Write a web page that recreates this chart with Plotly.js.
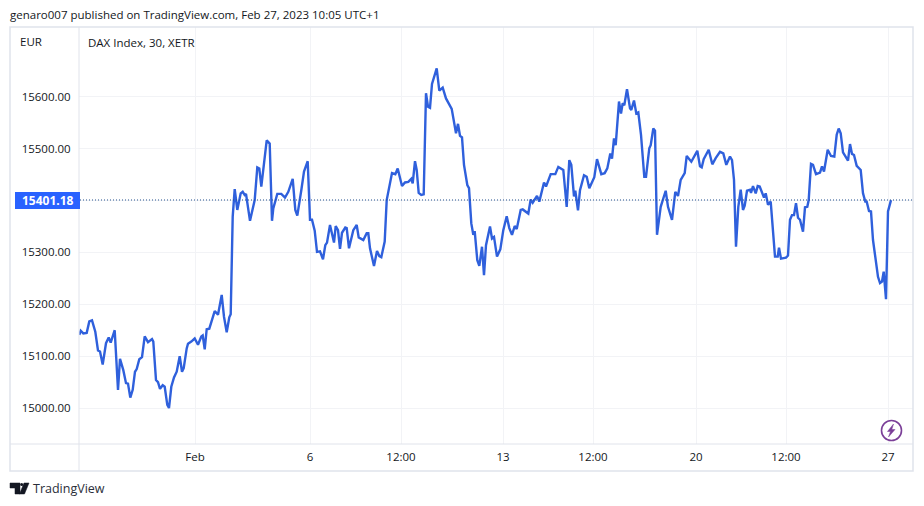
<!DOCTYPE html>
<html><head><meta charset="utf-8">
<script src="https://cdn.plot.ly/plotly-3.0.1.min.js"></script>
<style>html,body{margin:0;padding:0;background:#fff}#c{width:924px;height:506px}</style>
</head><body><div id="c"></div>
<script>
// horizontal position in session-time units (193 units = one trading week)
const sessionTime = [0.3,1.7,4.3,7.7,10.3,13,16.3,19,21,23.7,27,29.7,31.7,35.7,39,41,44.3,47,49,51.3,53.7,56,57.7,60.3,63,65.7,69,73,74.3,77,79,81,83.7,85.7,88.3,90,92.3,95,97.7,100.7,103,104.7,107.7,109,112.3,115.7,119,122.3,123.7,125.7,127.7,130.3,135.7,139,142.7,145,147.7,150.3,151.7,
153.7,155.7,158.3,161.7,163.7,165.7,167,171,175.7,178.3,180.3,182.3,187.7,190.7,193,194.3,198.3,202.3,206,209.3,213.7,216.3,218.3,222.3,225,228.7,231,233,235.7,238,241,244,246.3,248,251,255,256.7,259,261,263,266.3,267.7,270,274.3,277.7,279.7,284.3,287.7,289.3,291,295,298,300.3,302.3,305.7,307.7,313,316.3,318.7,323,326,329.3,332.3,333.7,336,337.7,339.7,342.3,344.7,347,349,351,353,357.7,360.3,363.7,367,372.7,
377,379,381,383,385,388.3,390,392.3,394.3,395.7,398.3,400.3,403,405,407,411,413,415,418,421.3,424.3,427.7,430.3,433,435.7,437.7,441.7,443.7,449.3,451.7,453.7,458,460.3,465,467,471.7,476.3,479.3,484.3,487.7,490.3,492.3,495,496.3,499,501,505,507.7,510.3,515.3,518,522.3,525.7,528.3,531.3,533,535,536.7,540,542,543.7,545.3,548,551,552.3,555,557.3,559.3,562,565.3,567,570.3,571.7,574.3,576,578,579.7,581.7,586.7,589,593,596.3,
599,601.7,605.7,607.7,612.3,618.3,621,622.7,624.7,629.7,633.3,636.7,641,644.3,647.3,651,653,655,657,659.3,661.7,664,665.7,668,671,672,674,676.7,678.7,680.7,685,686.7,689,691.7,696,698.7,700,702,707,709,711,713,715,717,719,721,724,726,728.3,729.7,732,734,737,741,743,745,748.7,752,755.3,757.7,759.7,761.7,764,769,771,773,775,777.7,781.7,784,786.3,787.7,790,792,794,796,799,801,803,804.7,807,809,812];
const closes = [15141,15149,15144,15145,15167,15169,15147,15111,15109,15084,15125,15136,15126,15150,15035,15095,15073,15048,15047,15020,15035,15070,15075,15094,15098,15138,15127,15133,15128,15054,15050,15037,15044,15041,15006,15000,15041,15059,15070,15100,15070,15077,15115,15124,15128,15134,15122,15138,15140,15113,15152,15153,15187,15180,15218,15176,15146,15175,15181,
15369,15422,15382,15414,15417,15411,15413,15361,15401,15464,15462,15427,15516,15510,15361,15385,15413,15413,15406,15417,15442,15382,15371,15420,15456,15476,15363,15363,15342,15301,15302,15287,15314,15319,15353,15319,15351,15343,15307,15338,15348,15347,15308,15343,15353,15329,15324,15337,15337,15308,15274,15303,15293,15291,15321,15401,15453,15451,15462,15428,15435,15436,15442,15433,15476,15459,15415,15411,15412,15607,15581,15579,15625,15655,15612,15618,15597,15577,
15530,15548,15525,15522,15469,15430,15424,15356,15334,15341,15285,15274,15311,15256,15314,15350,15327,15330,15292,15306,15343,15370,15347,15334,15351,15345,15382,15383,15375,15402,15396,15409,15398,15435,15427,15451,15451,15465,15459,15388,15478,15469,15408,15419,15381,15420,15449,15446,15424,15445,15480,15451,15453,15462,15491,15481,15520,15507,15591,15568,15588,15584,15615,15578,15575,15593,15568,15570,15527,15446,15446,15501,15507,15539,15535,15334,15356,15388,15419,15388,15363,15417,
15409,15440,15453,15486,15475,15496,15466,15464,15480,15498,15470,15482,15494,15491,15469,15485,15478,15440,15311,15388,15421,15382,15390,15419,15421,15415,15428,15414,15428,15427,15406,15414,15392,15398,15292,15292,15309,15288,15290,15294,15363,15372,15372,15395,15367,15363,15340,15387,15388,15401,15471,15469,15451,15454,15466,15456,15498,15486,15485,15527,15539,15530,15493,15477,15509,15490,15488,15467,15459,15414,15398,15398,15380,15379,15324,15298,15253,15241,15244,15263,15210,15379,15401];
const xTickVals = [116,231,322,424,514,617,707,809];
const xTickText = ['Feb','6','12:00','13','12:00','20','12:00','27'];
const yTickVals = [15000,15100,15200,15300,15400,15500,15600];
const yTickText = ['15000.00','15100.00','15200.00','15300.00','','15500.00','15600.00'];
const lastPrice = 15401.18;
const lastPriceText = '15401.18';
const publishLine = 'genaro007 published on TradingView.com, Feb 27, 2023 10:05 UTC+1';
const seriesName = 'DAX Index, 30, XETR';
const currency = 'EUR';

const W=924,H=506,L=79,R=913,T=27,B=444;
const fx=x=>(x-L)/(R-L), fy=y=>(B-y)/(B-T);
const FONT='"Open Sans","Noto Sans",sans-serif', INK='#131722', EDGE='#e0e3eb', GRID='#f2f3f6';
const note=(x,y,text,o={})=>Object.assign({xref:'paper',yref:'paper',x:fx(x),y:fy(y),text,showarrow:false,xanchor:'left',yanchor:'middle',font:{family:FONT,size:12,color:INK}},o);
const box=(x0,y0,x1,y1,o={})=>Object.assign({type:'rect',xref:'paper',yref:'paper',x0:fx(x0),x1:fx(x1),y0:fy(y0),y1:fy(y1),line:{color:EDGE,width:1}},o);
const ln=(x0,y0,x1,y1,c=EDGE,w=1)=>({type:'line',xref:'paper',yref:'paper',x0:fx(x0),x1:fx(x1),y0:fy(y0),y1:fy(y1),line:{color:c,width:w}});
const path=(pts,fill,lc)=>({type:'path',xref:'paper',yref:'paper',path:'M'+pts.map(p=>fx(p[0]).toFixed(5)+','+fy(p[1]).toFixed(5)).join('L')+'Z',fillcolor:fill,line:{color:lc||fill,width:0.5}});

const shapes=[
 box(10,27,913,471,{line:{color:EDGE,width:1.5}}),
 ln(79,27,79,471), ln(10,444,913,444),
 {type:'line',xref:'paper',yref:'y',x0:fx(80),x1:1,y0:lastPrice,y1:lastPrice,line:{color:'#24508f',width:1,dash:'1px,2px'}},
 box(15,192,80,209,{fillcolor:'#2962ff',line:{color:'#2962ff',width:0}}),
 // lightning badge
 {type:'circle',xref:'paper',yref:'paper',x0:fx(881.5),x1:fx(901.5),y0:fy(420.5),y1:fy(440.5),line:{color:'#7b3f98',width:1.6},fillcolor:'#fff'},
 path([[893.5,424],[887.5,431.5],[890.5,431.5],[888.5,437],[895,429.5],[891.8,429.5]],'#7b3f98'),
 // TradingView mark
 path([[10,483],[20,483],[20,494],[15,494],[15,488],[10,488]],'#131722'),
 {type:'circle',xref:'paper',yref:'paper',x0:fx(20.2),x1:fx(23.2),y0:fy(483),y1:fy(486),fillcolor:'#131722',line:{width:0}},
 path([[24,483],[29,483],[24.5,494],[19.5,494]],'#131722')
];
const annotations=[
 note(8,15,publishLine,{font:{family:FONT,size:11.5,color:INK}}),
 note(18,41,currency,{font:{family:FONT,size:11.5,color:INK}}),
 note(86,42,seriesName,{font:{family:FONT,size:11.5,color:INK}}),
 note(47.5,200.5,lastPriceText,{xanchor:'center',font:{family:FONT,size:12,color:'#fff',weight:700}}),
 note(31,488.5,'TradingView',{font:{family:FONT,size:12.5,color:'#2a2e39'}})
];
Plotly.newPlot('c',[{
 type:'scatter',mode:'lines',x:sessionTime,y:closes,hoverinfo:'skip',
 line:{color:'#2f60dc',width:2.4,shape:'linear'}
}],{
 width:W,height:H,showlegend:false,paper_bgcolor:'#fff',plot_bgcolor:'#fff',
 margin:{l:L,r:W-R,t:T,b:H-B,pad:0},
 font:{family:FONT,size:12,color:INK},
 xaxis:{range:[0,834],tickmode:'array',tickvals:xTickVals,ticktext:xTickText,showgrid:true,gridcolor:GRID,gridwidth:1,zeroline:false,showline:false,ticks:'outside',ticklen:2,tickcolor:'rgba(0,0,0,0)',tickangle:0,tickfont:{family:FONT,size:11.5,color:INK}},
 yaxis:{range:[14930.6,15734.8],tickmode:'array',tickvals:yTickVals,ticktext:yTickText,showgrid:true,gridcolor:GRID,gridwidth:1,zeroline:false,showline:false,ticks:'outside',ticklen:5,tickcolor:'rgba(0,0,0,0)',tickfont:{family:FONT,size:11.5,color:INK}},
 shapes,annotations
},{displayModeBar:false,staticPlot:true});
</script></body></html>
